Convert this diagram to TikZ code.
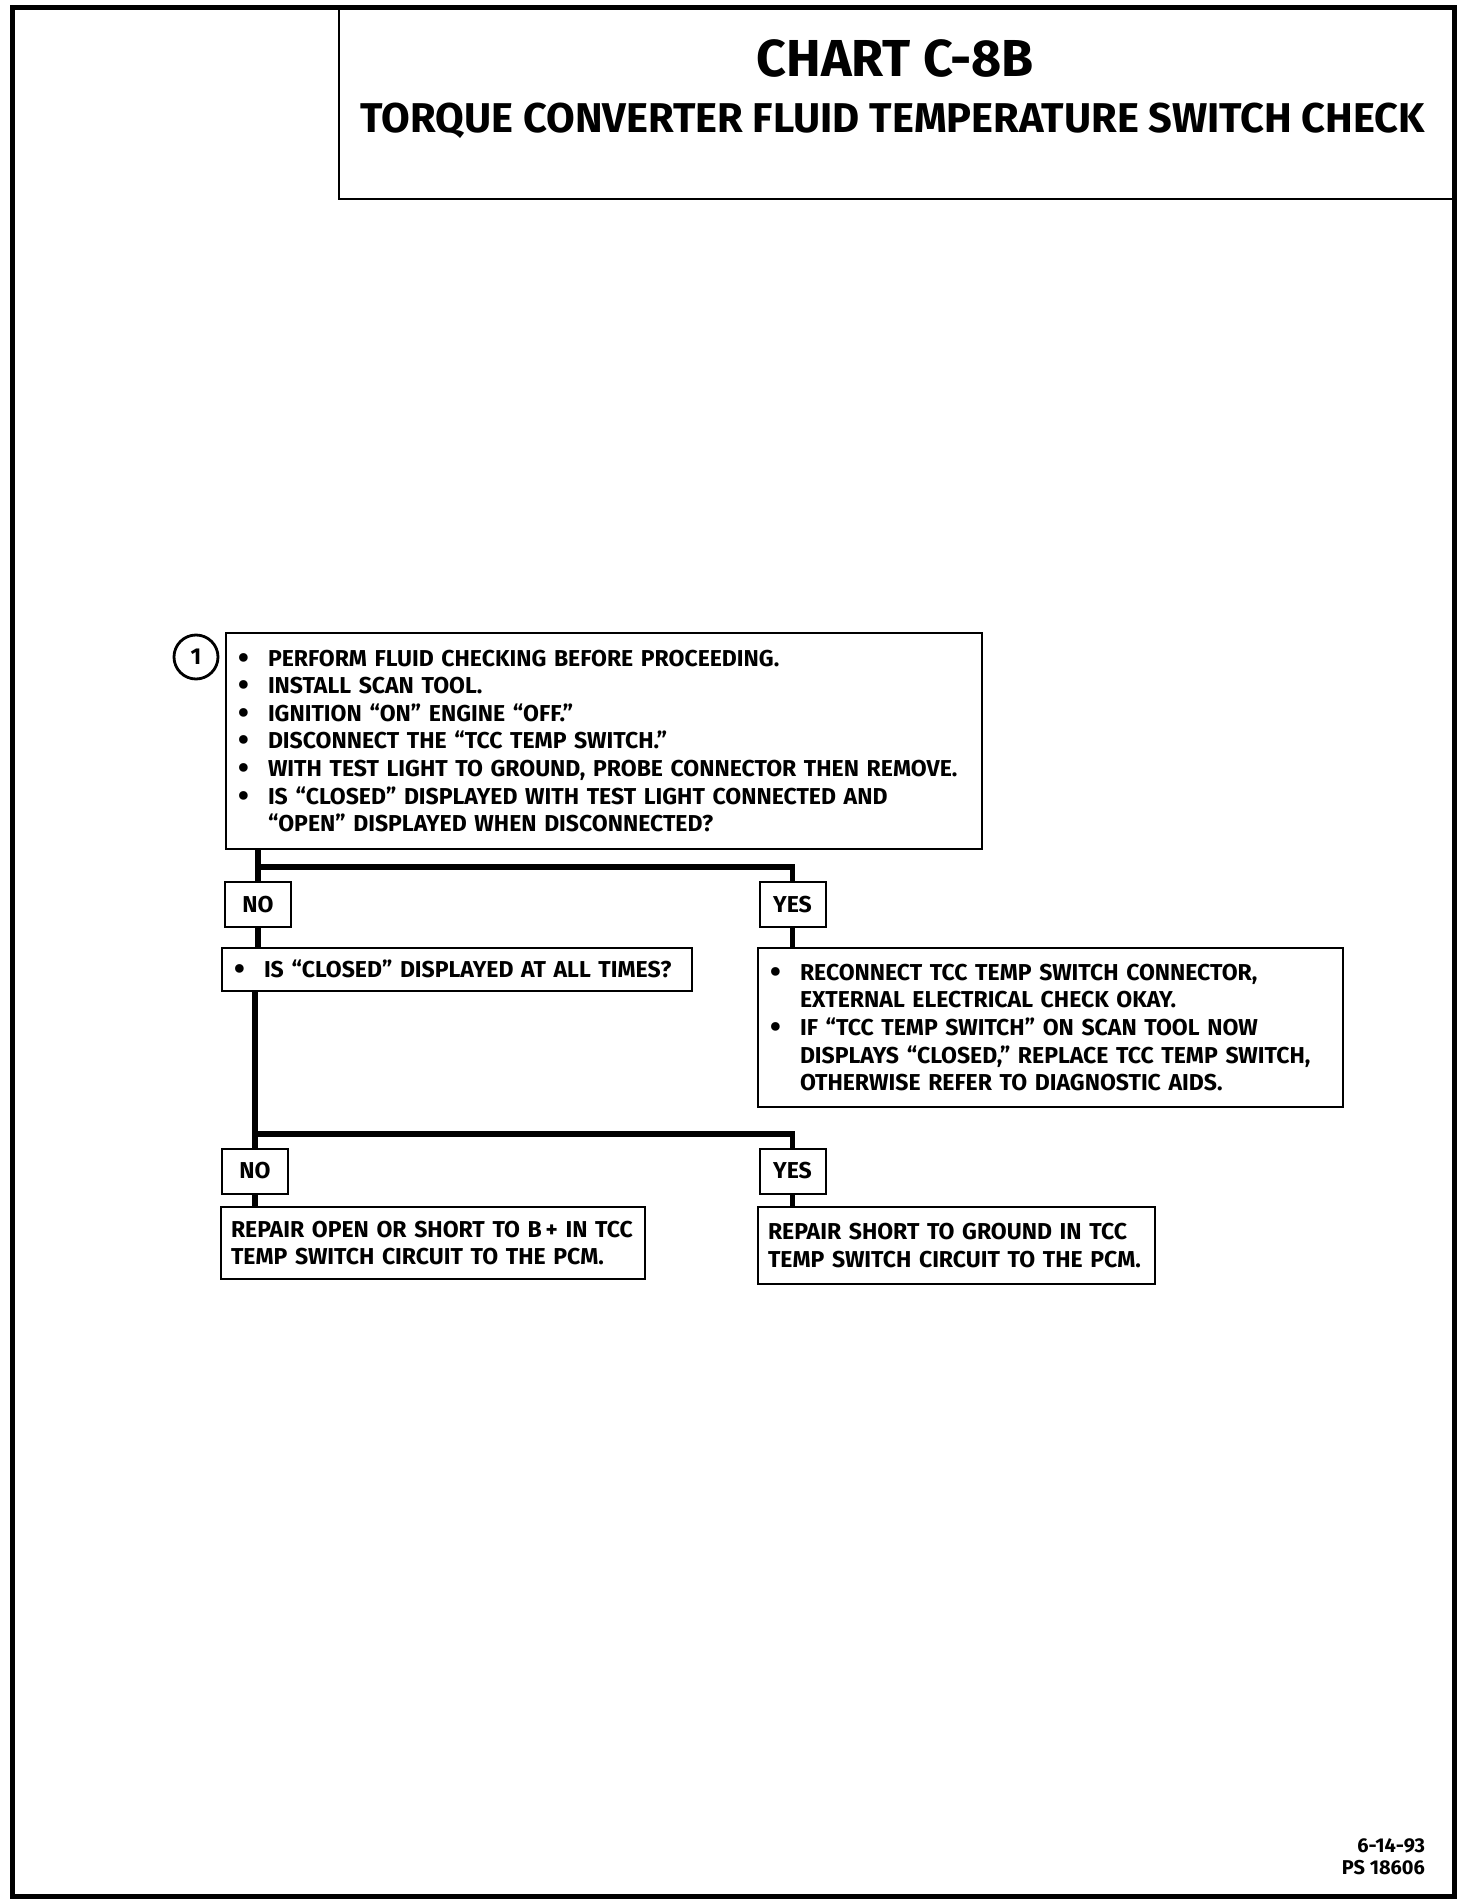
\documentclass[tikz,border=0pt]{standalone}
\usepackage{fontspec}
\setmainfont{Fira Sans}
\usetikzlibrary{positioning}
\newcommand{\chartfont}{\fontsize{11.5}{13.8}\selectfont\bfseries}
\newcommand{\bitem}{\makebox[16pt][l]{\hspace*{1pt}\raisebox{-0.15ex}{\scalebox{1.35}{\textbullet}}}}
\newcommand{\bcont}{\hspace*{16pt}}
\tikzset{
  chartbox/.style={draw, line width=1pt, anchor=north west, align=left,
    inner xsep=5pt, inner ysep=0pt, font=\chartfont},
  answer/.style={draw, line width=1pt, minimum width=33pt, minimum height=22.5pt,
    inner sep=0pt, font=\chartfont},
  stepmark/.style={circle, draw, line width=1.4pt, minimum size=22pt, inner sep=0pt,
    font=\chartfont},
  wire/.style={line width=2.6pt}
}

\begin{document}
\begin{tikzpicture}[x=0.5pt, y=-0.5pt]
  \useasboundingbox (0,0) rectangle (1472,1904);
  % page frame and title block
  \draw[line width=2.5pt] (12,8) rectangle (1454,1896);
  \node[draw, line width=1pt, anchor=north west, minimum width=558pt,
    minimum height=95pt, inner sep=0pt] (titlebox) at (338,8) {};
  \node[font=\fontsize{26}{30}\selectfont\bfseries] (chart) at (895,58) {CHART C-8B};
  \node[font=\fontsize{20.8}{24}\selectfont\bfseries] (subject) at (893,121)
    {TORQUE CONVERTER FLUID TEMPERATURE SWITCH CHECK};

  % first check
  \node[chartbox, text width=368pt, minimum height=108pt] (check1) at (225,632)
    {\bitem PERFORM FLUID CHECKING BEFORE PROCEEDING.\\
     \bitem INSTALL SCAN TOOL.\\
     \bitem IGNITION “ON” ENGINE “OFF.”\\
     \bitem DISCONNECT THE “TCC TEMP SWITCH.”\\
     \bitem WITH TEST LIGHT TO GROUND, PROBE CONNECTOR THEN REMOVE.\\
     \bitem IS “CLOSED” DISPLAYED WITH TEST LIGHT CONNECTED AND\\
     \bcont “OPEN” DISPLAYED WHEN DISCONNECTED?};
  \node[stepmark] (mark1) at (196,657) {1};

  \node[answer] (no1) at (258,904.5) {NO};
  \node[answer] (yes1) at (792.5,904.5) {YES};

  \node[chartbox, text width=225pt, minimum height=21.5pt] (closed) at (221,947)
    {\bitem IS “CLOSED” DISPLAYED AT ALL TIMES?};
  \node[chartbox, text width=282.5pt, minimum height=79.5pt] (reconn) at (757,947)
    {\bitem RECONNECT TCC TEMP SWITCH CONNECTOR,\\
     \bcont EXTERNAL ELECTRICAL CHECK OKAY.\\
     \bitem IF “TCC TEMP SWITCH” ON SCAN TOOL NOW\\
     \bcont DISPLAYS “CLOSED,” REPLACE TCC TEMP SWITCH,\\
     \bcont OTHERWISE REFER TO DIAGNOSTIC AIDS.};

  \node[answer] (no2) at (255,1171) {NO};
  \node[answer] (yes2) at (792.5,1171) {YES};

  \node[chartbox, text width=202pt, minimum height=36pt] (repair1) at (220,1206)
    {REPAIR OPEN OR SHORT TO B\,+ IN TCC\\
     TEMP SWITCH CIRCUIT TO THE PCM.};
  \node[chartbox, text width=188.5pt, minimum height=38.5pt] (repair2) at (757,1206)
    {REPAIR SHORT TO GROUND IN TCC\\
     TEMP SWITCH CIRCUIT TO THE PCM.};

  \node[anchor=east, align=right, font=\fontsize{10}{11}\selectfont\bfseries]
    (stamp) at (1432,1857) {6-14-93\\PS 18606};

  % branches
  \coordinate (fork1) at (0,867);
  \coordinate (fork2) at (0,1134);
  \draw[wire] (check1.south -| no1) -- (no1.north);
  \draw[wire] (fork1 -| no1) -| (yes1.north);
  \draw[wire] (no1.south) -- (no1.south |- closed.north);
  \draw[wire] (yes1.south) -- (yes1.south |- reconn.north);
  \draw[wire] (closed.south -| no2) -- (no2.north);
  \draw[wire] (fork2 -| no2) -| (yes2.north);
  \draw[wire] (no2.south) -- (no2.south |- repair1.north);
  \draw[wire] (yes2.south) -- (yes2.south |- repair2.north);
\end{tikzpicture}
\end{document}
